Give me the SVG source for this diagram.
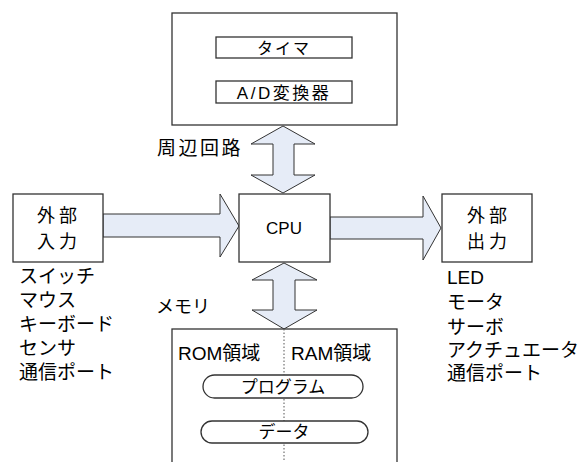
<svg xmlns="http://www.w3.org/2000/svg" width="581" height="462" viewBox="0 0 581 462">
<style>
.box{fill:#fff;stroke:#333;stroke-width:1.3}
.arr{fill:#E6ECF7;stroke:#333;stroke-width:1}
.t{font-family:"Liberation Sans","Noto Sans CJK JP",sans-serif;fill:#000}
.l{font-size:18px}
.c{text-anchor:middle}
</style>
<rect width="581" height="462" fill="#fff"/>
<g id="connectors">
<polygon class="arr" points="283,126 315,144 294,144 294,175 315,175 283,193 251,175 273,175 273,144 251,144"/>
<polygon class="arr" points="284,263 317,280 295,280 295,310 317,310 284,329 252,310 273,310 273,280 252,280"/>
<polygon class="arr" points="103,214 220,214 220,194 239,226 220,257 220,237 103,237"/>
<polygon class="arr" points="330,217 423,217 423,196 441,228 423,260 423,239 330,239"/>
</g>
<g id="peripheral">
<rect class="box" x="172" y="13" width="225" height="112"/>
<rect class="box" x="216" y="37" width="136" height="21"/>
<text class="t c" x="284" y="54" font-size="16" letter-spacing="2">タイマ</text>
<rect class="box" x="216" y="81" width="136" height="22"/>
<text class="t c" x="284" y="99" font-size="17" letter-spacing="2.5">A/D変換器</text>
</g>
<g id="label-peripheral"><text class="t" x="157" y="155" font-size="19" letter-spacing="2.5">周辺回路</text></g>
<g id="cpu">
<rect class="box" x="239" y="194" width="91" height="68"/>
<text class="t c" x="284" y="234" font-size="17">CPU</text>
</g>
<g id="input">
<rect class="box" x="13" y="194" width="90" height="68"/>
<text class="t c" x="59" y="222" font-size="18" letter-spacing="4">外部</text>
<text class="t c" x="59" y="248" font-size="18" letter-spacing="4">入力</text>
</g>
<g id="input-list" class="t l">
<text x="19" y="283" font-size="19">スイッチ</text>
<text x="19" y="307" font-size="19">マウス</text>
<text x="19" y="331" font-size="19">キーボード</text>
<text x="19" y="355" font-size="19">センサ</text>
<text x="19" y="379" font-size="19">通信ポート</text>
</g>
<g id="output">
<rect class="box" x="442" y="194" width="90" height="68"/>
<text class="t c" x="489" y="222" font-size="18" letter-spacing="4">外部</text>
<text class="t c" x="489" y="248" font-size="18" letter-spacing="4">出力</text>
</g>
<g id="output-list" class="t">
<text x="447" y="284" font-size="19">LED</text>
<text x="447" y="309" font-size="19">モータ</text>
<text x="447" y="334" font-size="19">サーボ</text>
<text x="447" y="357" font-size="19">アクチュエータ</text>
<text x="447" y="380" font-size="19">通信ポート</text>
</g>
<g id="label-memory"><text class="t" x="156" y="313" font-size="18">メモリ</text></g>
<g id="memory">
<rect class="box" x="172" y="329" width="225" height="140"/>
<line x1="284" y1="329" x2="284" y2="462" stroke="#555" stroke-width="1" stroke-dasharray="1.5,2"/>
<text class="t" x="178" y="360" font-size="19">ROM領域</text>
<text class="t" x="291" y="360" font-size="19">RAM領域</text>
<rect class="box" x="203" y="375" width="160" height="23" rx="11.5" ry="11.5"/>
<text class="t c" x="283" y="393" font-size="17">プログラム</text>
<rect class="box" x="201" y="421" width="167" height="22" rx="11" ry="11"/>
<text class="t c" x="284" y="438" font-size="17">データ</text>
</g>
</svg>
